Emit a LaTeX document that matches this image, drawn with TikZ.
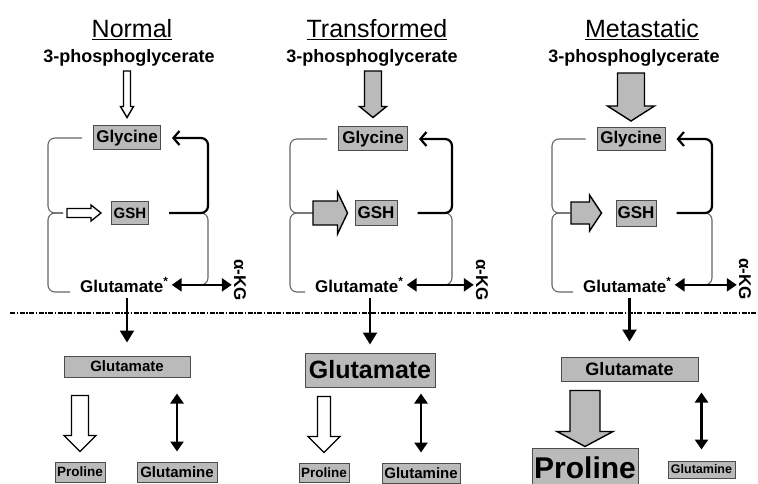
\documentclass[tikz,border=0pt]{standalone}
\usepackage{fontspec}
\setmainfont{Liberation Sans}
\usetikzlibrary{arrows.meta,calc}

\newcommand{\fsz}[1]{\fontsize{#1}{#1}\selectfont}

% fat arrows: from, to, gap at start, gap at end, shaft half, head half, head length, style
\newcommand{\blockdown}[8]{%
  \draw[#8] let \p1=(#1), \p2=(#2) in
    (\x2-#5,\y1-#3) -- (\x2+#5,\y1-#3) -- (\x2+#5,\y2+#4+#7)
    -- (\x2+#6,\y2+#4+#7) -- (\x2,\y2+#4) -- (\x2-#6,\y2+#4+#7)
    -- (\x2-#5,\y2+#4+#7) -- cycle;}
\newcommand{\blockright}[8]{%
  \draw[#8] let \p1=(#1), \p2=(#2) in
    (\x1+#3,\y2-#5) -- (\x1+#3,\y2+#5) -- (\x2-#4-#7,\y2+#5)
    -- (\x2-#4-#7,\y2+#6) -- (\x2-#4,\y2) -- (\x2-#4-#7,\y2-#6)
    -- (\x2-#4-#7,\y2-#5) -- cycle;}

\begin{document}
\begin{tikzpicture}[x=1pt,y=-1pt,
    title/.style={font=\fsz{25}, inner sep=1pt},
    pg/.style={font=\bfseries\fsz{18}, inner sep=1pt},
    box/.style={draw=black!70, fill=black!27, line width=1pt, inner sep=1pt},
    brk/.style={draw=black!60, line width=1.1pt, rounded corners=7pt},
    fb/.style={line width=2.2pt, rounded corners=7pt, -{Straight Barb[length=6pt,width=14pt]}},
    dbl/.style={line width=2.6pt, {Triangle[length=10pt,width=13pt]}-{Triangle[length=10pt,width=13pt]}},
    down/.style={line width=2.2pt, -{Triangle[length=12pt,width=14pt]}},
    blk/.style={draw=black, line width=1.4pt, fill=white},
    blkg/.style={blk, fill=black!27},
    sep/.style={line width=1.8pt, dash pattern=on 5pt off 1.5pt on 1.5pt off 1.5pt}]
    \useasboundingbox (0,0) rectangle (758,484);

    % column heads
    \node[title, anchor=base] (t1) at (132,38) {\underline{Normal}};
    \node[title, anchor=base] (t2) at (377,38) {\underline{Transformed}};
    \node[title, anchor=base] (t3) at (642,38) {\underline{Metastatic}};
    \node[pg, anchor=base] (pg1) at (129,63) {3-phosphoglycerate};
    \node[pg, anchor=base] (pg2) at (372,63) {3-phosphoglycerate};
    \node[pg, anchor=base] (pg3) at (634,63) {3-phosphoglycerate};

    % glycine / GSH / glutamate* cycle
    \node[box, font=\bfseries\fsz{17}, minimum width=67pt, minimum height=24pt] (gly1) at (127,138) {Glycine};
    \node[box, font=\bfseries\fsz{17}, minimum width=69pt, minimum height=24pt] (gly2) at (373,139) {Glycine};
    \node[box, font=\bfseries\fsz{17}, minimum width=68pt, minimum height=23pt] (gly3) at (631,139) {Glycine};
    \node[box, font=\bfseries\fsz{15}, minimum width=37pt, minimum height=23pt] (gsh1) at (130,213) {GSH};
    \node[box, font=\bfseries\fsz{17}, minimum width=42pt, minimum height=25pt] (gsh2) at (376,213) {GSH};
    \node[box, font=\bfseries\fsz{17}, minimum width=40pt, minimum height=26pt] (gsh3) at (636,213) {GSH};
    \node[font=\bfseries\fsz{17}, anchor=base west, inner sep=0pt] (glus1) at (80,292) {Glutamate\textsuperscript{*}};
    \node[font=\bfseries\fsz{17}, anchor=base west, inner sep=0pt] (glus2) at (315,292) {Glutamate\textsuperscript{*}};
    \node[font=\bfseries\fsz{17}, anchor=base west, inner sep=0pt] (glus3) at (583,292) {Glutamate\textsuperscript{*}};
    \node[font=\bfseries\fsz{17}, rotate=-90, inner sep=0pt] (akg1) at (240,280) {α-KG};
    \node[font=\bfseries\fsz{17}, rotate=-90, inner sep=0pt] (akg2) at (482,280) {α-KG};
    \node[font=\bfseries\fsz{17}, rotate=-90, inner sep=0pt] (akg3) at (745,279) {α-KG};

    \coordinate (lb1) at (48,213);  \coordinate (cl1) at (63,213);  \coordinate (rb1) at (208,213);
    \coordinate (lb2) at (290,213); \coordinate (cl2) at (313,213); \coordinate (rb2) at (452,213);
    \coordinate (lb3) at (552,213); \coordinate (cl3) at (570,213); \coordinate (rb3) at (712,213);

    \foreach \i in {1,2,3} {
      \draw[brk] ([xshift=-11pt]gly\i.west) -- (gly\i.west -| lb\i) -- (lb\i) -- (cl\i);
      \draw[brk] (cl\i) -- (lb\i) -- (glus\i.base west -| lb\i) -- ([xshift=-10pt]glus\i.base west);
      \draw[brk] ([xshift=-8pt]rb\i) -- (rb\i) -- (glus\i.east -| rb\i) -- ++(-7,0);
      \draw[fb] ([xshift=20pt]gsh\i.east) -- (rb\i) -- (gly\i.east -| rb\i) -- ([xshift=11pt]gly\i.east);
      \draw[dbl, shorten <=3pt, shorten >=2pt] (glus\i.east) -- (glus\i.east -| akg\i.south);
    }

    \blockdown{pg1.south}{gly1.north}{3pt}{8pt}{3.5pt}{6.5pt}{11pt}{blk}
    \blockdown{pg2.south}{gly2.north}{3pt}{9pt}{8.5pt}{13.5pt}{11pt}{blkg}
    \blockdown{pg3.south}{gly3.north}{5pt}{6pt}{13.5pt}{23.5pt}{15pt}{blkg}
    \blockright{cl1}{gsh1.west}{4pt}{10pt}{4.5pt}{8pt}{10pt}{blk}
    \blockright{cl2}{gsh2.west}{0pt}{7pt}{12pt}{21pt}{10pt}{blkg}
    \blockright{cl3}{gsh3.west}{1pt}{14pt}{11pt}{18pt}{12pt}{blkg}

    % membrane
    \draw[sep] (10,313) -- (758,313);

    % below the line
    \node[box, font=\bfseries\fsz{15}, minimum width=126pt, minimum height=21pt] (glub1) at (127,366.5) {Glutamate};
    \node[box, font=\bfseries\fsz{25}, minimum width=130pt, minimum height=34pt] (glub2) at (370,370) {Glutamate};
    \node[box, font=\bfseries\fsz{18}, minimum width=137pt, minimum height=24pt] (glub3) at (629.5,369) {Glutamate};
    \node[box, font=\bfseries\fsz{13.5}, minimum width=50pt, minimum height=20pt] (pro1) at (80,472) {Proline};
    \node[box, font=\bfseries\fsz{13.5}, minimum width=50pt, minimum height=19pt] (pro2) at (324,472.5) {Proline};
    \node[box, font=\bfseries\fsz{30}, minimum width=106pt, minimum height=40pt] (pro3) at (585,468) {Proline};
    \node[box, font=\bfseries\fsz{15}, minimum width=80pt, minimum height=20pt] (gln1) at (177,472) {Glutamine};
    \node[box, font=\bfseries\fsz{15}, minimum width=78pt, minimum height=20pt] (gln2) at (421,473) {Glutamine};
    \node[box, font=\bfseries\fsz{12.5}, minimum width=67pt, minimum height=17pt] (gln3) at (701.5,469.5) {Glutamine};

    \draw[down, shorten <=6pt, shorten >=13pt] (glus1.south -| glub1.north) -- (glub1.north);
    \draw[down, shorten <=6pt, shorten >=8pt] (glus2.south -| glub2.north) -- (glub2.north);
    \draw[down, shorten <=6pt, shorten >=15pt] (glus3.south -| glub3.north) -- (glub3.north);

    \blockdown{glub1.south}{pro1.north}{18pt}{10pt}{8.5pt}{16pt}{16pt}{blk}
    \blockdown{glub2.south}{pro2.north}{9pt}{10pt}{6.5pt}{16pt}{16pt}{blk}
    \blockdown{glub3.south}{pro3.north}{9pt}{1pt}{15pt}{28pt}{15pt}{blkg}

    \draw[dbl, shorten <=16pt, shorten >=10pt] (glub1.south -| gln1.north) -- (gln1.north);
    \draw[dbl, shorten <=6pt, shorten >=10pt] (glub2.south -| gln2.north) -- (gln2.north);
    \draw[dbl, shorten <=11pt, shorten >=11pt] (glub3.south -| gln3.north) -- (gln3.north);
\end{tikzpicture}
\end{document}
